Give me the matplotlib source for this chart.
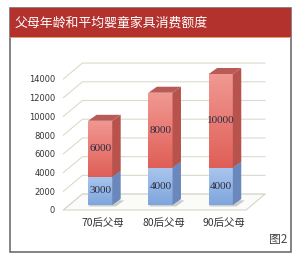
import numpy as np
import matplotlib
matplotlib.use('Agg')
import matplotlib.pyplot as plt
from matplotlib.patches import Polygon, Rectangle

plt.rcParams['font.family'] = ['Noto Sans CJK SC', 'DejaVu Sans']

title = '父母年龄和平均婴童家具消费额度'
categories = ['70后父母', '80后父母', '90后父母']
blue_vals = [3000, 4000, 4000]
red_vals = [6000, 8000, 10000]
yticks = [0, 2000, 4000, 6000, 8000, 10000, 12000, 14000]

fig = plt.figure(figsize=(3, 2.58), dpi=100)
W, H = 300, 258

# frame + title bar (pixel coords -> figure fraction)
def fx(px):
    return px / W

def fy(py):
    return 1 - py / H

fig.patches.append(Rectangle((fx(10), fy(252)), fx(281), (252 - 8) / H,
                             transform=fig.transFigure, facecolor='white',
                             edgecolor='#6e6e6e', lw=1.2, zorder=0))
fig.patches.append(Rectangle((fx(10), fy(37)), fx(281), 29 / H,
                             transform=fig.transFigure, facecolor='#b3322e',
                             edgecolor='none', zorder=1))
fig.patches.append(Rectangle((fx(10), fy(38)), fx(281), 1.2 / H,
                             transform=fig.transFigure, facecolor='#d9a36a',
                             edgecolor='none', zorder=1))
fig.text(fx(15), fy(23), title, color='white', fontsize=9.3, va='center', ha='left')
fig.text(fx(287), fy(240), '图2', color='#444444', fontsize=8.5, va='center', ha='right')

ax = fig.add_axes([fx(58), fy(212), 214 / W, 157 / H])
ax.set_zorder(5)
ax.set_xlim(-0.70, 2.85)
ax.set_ylim(-214, 16560)
for s in ax.spines.values():
    s.set_visible(False)
ax.patch.set_alpha(0)

# 3D-looking walls
wall_x0, wall_x1 = -0.61, 2.42
wdx, wdy = 0.315, 1700
grid_c = '#d9dccb'
for v in yticks:
    ax.plot([wall_x0, wall_x0 + wdx, wall_x1 + wdx], [v, v + wdy, v + wdy],
            color=grid_c, lw=0.8, zorder=1)
floor = Polygon([(wall_x0, 0), (wall_x1, 0), (wall_x1 + wdx, wdy), (wall_x0 + wdx, wdy)],
                closed=True, facecolor='#fbfbf9', edgecolor='#d3d6ca', lw=0.8, zorder=1)
ax.add_patch(floor)

# bars
x = np.arange(len(categories))
bw = 0.4
bdx, bdy = 0.14, 640
b0 = 530


def box(xc, bottom, height, front, side, top, zo):
    xl, xr = xc - bw / 2, xc + bw / 2
    t = bottom + height
    grad = np.linspace(0, 1, 64).reshape(-1, 1)
    im = ax.imshow(grad, extent=(xl, xr, bottom, t), origin='lower', aspect='auto',
                   cmap=matplotlib.colors.LinearSegmentedColormap.from_list('g', front),
                   zorder=zo)
    rect = Rectangle((xl, bottom), bw, height, facecolor='none', edgecolor='none', zorder=zo)
    ax.add_patch(rect)
    im.set_clip_path(rect)
    ax.add_patch(Polygon([(xr, bottom), (xr + bdx, bottom + bdy), (xr + bdx, t + bdy), (xr, t)],
                         closed=True, facecolor=side, edgecolor='none', zorder=zo))
    ax.add_patch(Polygon([(xl, t), (xr, t), (xr + bdx, t + bdy), (xl + bdx, t + bdy)],
                         closed=True, facecolor=top, edgecolor='none', zorder=zo))


for i in range(len(categories)):
    # floor shadow
    ax.add_patch(Polygon([(x[i] - bw / 2, b0 - 150), (x[i] + bw / 2 + 0.06, b0 - 150),
                          (x[i] + bw / 2 + bdx + 0.06, b0 + bdy - 150), (x[i] - bw / 2 + bdx, b0 + bdy)],
                         closed=True, facecolor='#9aa39a', alpha=0.5, edgecolor='none', zorder=2))
    box(x[i], b0, blue_vals[i], ['#7fa6dc', '#a9c6ee'], '#6b88bd', '#6b88bd', 3)
    box(x[i], b0 + blue_vals[i], red_vals[i], ['#df5f57', '#f19892'], '#b8524c', '#b85a55', 3)
    ax.text(x[i], b0 + blue_vals[i] / 2, str(blue_vals[i]), ha='center', va='center',
            fontsize=8, family='Liberation Serif', color='#2b2b40', zorder=5)
    ax.text(x[i], b0 + blue_vals[i] + red_vals[i] / 2, str(red_vals[i]), ha='center', va='center',
            fontsize=8, family='Liberation Serif', color='#2b2b40', zorder=5)

ax.set_yticks(yticks)
ax.set_yticklabels([str(v) for v in yticks], fontsize=6, family='DejaVu Sans', color='#333333')
ax.set_xticks(x + 0.05)
ax.set_xticklabels(categories, fontsize=7.5, color='#333333')
ax.tick_params(length=0, axis='y', pad=2)
ax.tick_params(length=0, axis='x', pad=4)

fig.savefig('out.png', dpi=100, facecolor='white')
